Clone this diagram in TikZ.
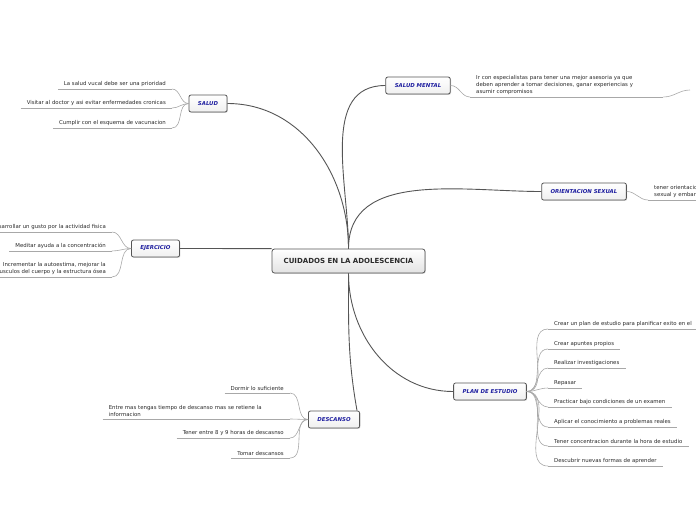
\documentclass[tikz,border=0pt]{standalone}
\usepackage{fontspec}
\setmainfont{DejaVu Sans}
\usepackage{xcolor}
\usepackage{tikz}
\usetikzlibrary{shadows}
\definecolor{topicblue}{HTML}{1F1FA0}
\definecolor{linegray}{HTML}{555555}
\definecolor{leafgray}{HTML}{A8A8A8}
\definecolor{textgray}{HTML}{2A2A2A}

\begin{document}
\begin{tikzpicture}[x=1pt,y=1pt,
  central/.style={draw=linegray,thick,rounded corners=2.5pt,top color=white,bottom color=gray!22,
                  minimum width=153pt,minimum height=24pt,font=\fontsize{7}{8}\selectfont\bfseries,
                  text=textgray,drop shadow={opacity=0.3,shadow xshift=0.8pt,shadow yshift=-0.8pt}},
  topic/.style={draw=linegray,thick,rounded corners=2pt,top color=white,bottom color=gray!12,
                minimum height=17pt,inner xsep=9pt,font=\fontsize{5.4}{6}\selectfont\bfseries\itshape,
                text=topicblue,drop shadow={opacity=0.3,shadow xshift=0.8pt,shadow yshift=-0.8pt}},
  uline/.style={draw=leafgray,line width=0.6pt},
  leaf/.style={font=\fontsize{5.4}{7}\selectfont,text=textgray,inner xsep=6pt,inner ysep=2pt,
               append after command={(\tikzlastnode.south west) edge[uline] (\tikzlastnode.south east)}},
  lleaf/.style={leaf,anchor=south east},
  rleaf/.style={leaf,anchor=south west},
  br/.style={draw=linegray,line width=0.9pt},
  tw/.style={draw=leafgray,line width=0.6pt}
]
\useasboundingbox (0,0) rectangle (696,-520);
\clip (0,0) rectangle (696,-520);
% centre and main topics
\node[central] (cuidados) at (348.5,-261) {CUIDADOS EN LA ADOLESCENCIA};
\node[topic] (salud) at (208,-103.5) {SALUD};
\node[topic] (saludm) at (418,-85.5) {SALUD MENTAL};
\node[topic] (orient) at (584,-191.5) {ORIENTACION SEXUAL};
\node[topic] (ejercicio) at (155.5,-248.5) {EJERCICIO};
\node[topic] (plan) at (490,-391.5) {PLAN DE ESTUDIO};
\node[topic] (descanso) at (334,-419.5) {DESCANSO};
\draw[br] (cuidados.north) to[out=90,in=0] (salud.east);
\draw[br] (cuidados.north) to[out=90,in=180] (saludm.west);
\draw[br] (cuidados.north) to[out=90,in=180] (orient.west);
\draw[br] (ejercicio.east) to[out=0,in=180] (cuidados.north west);
\draw[br] (cuidados.south) to[out=-90,in=180] (plan.west);
\draw[br] (cuidados.south) to[out=-90,in=100] ([xshift=-3pt]descanso.north east);
% salud
\node[lleaf] (s1) at (172,-89) {La salud vucal debe ser una prioridad};
\node[lleaf] (s2) at (172,-108) {Visitar al doctor y asi evitar enfermedades cronicas};
\node[lleaf] (s3) at (172,-128) {Cumplir con el esquema de vacunacion};
\draw[tw] (salud.west) to[out=180,in=0] (s1.south east);
\draw[tw] (salud.west) to[out=180,in=0] (s2.south east);
\draw[tw] (salud.west) to[out=180,in=0] (s3.south east);
% salud mental
\node[rleaf,text width=181pt,align=left] (m1) at (470,-97)
  {Ir con especialistas para tener una mejor asesoria ya que\\deben aprender a tomar decisiones, ganar experiencias y\\asumir compromisos};
\coordinate (mend) at (690,-90);
\draw[tw] (saludm.east) to[out=0,in=180] (m1.south west);
\draw[tw] (m1.south east) to[out=0,in=180] (mend);
% orientacion sexual
\node[rleaf,text width=60pt,align=left] (o1) at (648,-200) {tener orientacion\\sexual y embarazo};
\draw[tw] (orient.east) to[out=0,in=180] (o1.south west);
% ejercicio
\node[lleaf] (e1) at (112,-232) {Desarrollar un gusto por la actividad fisica};
\node[lleaf] (e2) at (112,-251) {Meditar ayuda a la concentración};
\node[lleaf,align=right] (e3) at (112,-277) {Incrementar la autoestima, mejorar la\\musculos del cuerpo y la estructura ósea};
\draw[tw] (ejercicio.west) to[out=180,in=0] (e1.south east);
\draw[tw] (ejercicio.west) to[out=180,in=0] (e2.south east);
\draw[tw] (ejercicio.west) to[out=180,in=0] (e3.south east);
% plan de estudio
\node[rleaf] (p1) at (548,-329) {Crear un plan de estudio para planificar exito en el};
\node[rleaf] (p2) at (548,-349) {Crear apuntes propios};
\node[rleaf] (p3) at (548,-368) {Realizar investigaciones};
\node[rleaf] (p4) at (548,-388) {Repasar};
\node[rleaf] (p5) at (548,-407) {Practicar bajo condiciones de un examen};
\node[rleaf] (p6) at (548,-427) {Aplicar el conocimiento a problemas reales};
\node[rleaf] (p7) at (548,-446) {Tener concentracion durante la hora de estudio};
\node[rleaf] (p8) at (548,-466) {Descubrir nuevas formas de aprender};
\foreach \p in {p1,p2,p3,p4,p5,p6,p7,p8}
  \draw[tw] (plan.east) to[out=0,in=180] (\p.south west);
% descanso
\node[lleaf] (d1) at (290,-393) {Dormir lo suficiente};
\node[lleaf,text width=175pt,align=left] (d2) at (290,-419) {Entre mas tengas tiempo de descanso mas se retiene la\\informacion};
\node[lleaf] (d3) at (290,-438) {Tener entre 8 y 9 horas de descasnso};
\node[lleaf] (d4) at (290,-458) {Tomar descansos};
\foreach \d in {d1,d2,d3,d4}
  \draw[tw] (descanso.west) to[out=180,in=0] (\d.south east);
\end{tikzpicture}
\end{document}
